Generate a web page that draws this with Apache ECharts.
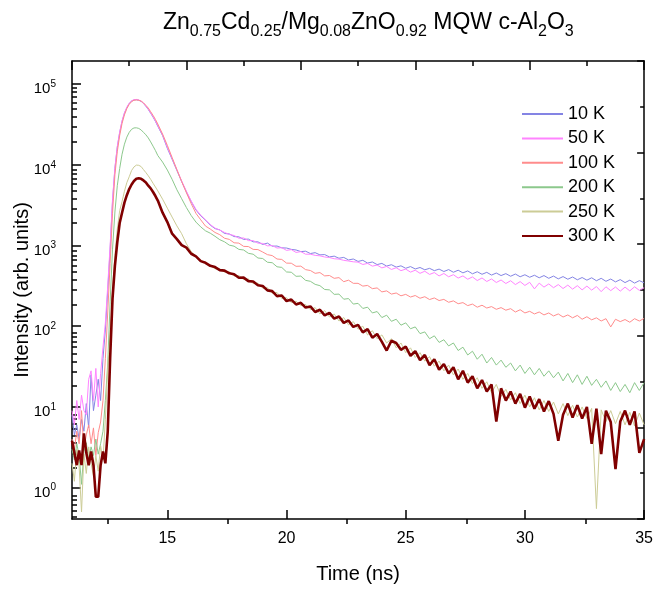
<!DOCTYPE html>
<html><head><meta charset="utf-8">
<script src="https://cdn.jsdelivr.net/npm/echarts@6/dist/echarts.min.js"></script>
<style>html,body{margin:0;padding:0;background:#fff}#c{width:656px;height:589px}</style>
</head><body><div id="c"></div>
<script>
// ---- data ----
const time = [
  11.0,11.1,11.2,11.3,11.4,11.5,11.6,11.7,11.8,11.9,
  12.0,12.1,12.2,12.3,12.4,12.5,12.6,12.7,12.8,12.9,
  13.0,13.1,13.2,13.3,13.4,13.5,13.6,13.7,13.8,13.9,
  14.0,14.1,14.2,14.3,14.4,14.5,14.6,
  14.8,15.0,15.2,15.4,15.6,15.8,16.0,16.2,16.4,16.6,16.8,
  17.0,17.2,17.4,17.6,17.8,18.0,18.2,18.4,18.6,18.8,
  19.0,19.2,19.4,19.6,19.8,20.0,20.2,20.4,20.6,20.8,
  21.0,21.2,21.4,21.6,21.8,22.0,22.2,22.4,22.6,22.8,
  23.0,23.2,23.4,23.6,23.8,24.0,24.2,24.4,24.6,24.8,
  25.0,25.2,25.4,25.6,25.8,26.0,26.2,26.4,26.6,26.8,
  27.0,27.2,27.4,27.6,27.8,28.0,28.2,28.4,28.6,28.8,
  29.0,29.2,29.4,29.6,29.8,30.0,30.2,30.4,30.6,30.8,
  31.0,31.2,31.4,31.6,31.8,32.0,32.2,32.4,32.6,32.8,
  33.0,33.2,33.4,33.6,33.8,34.0,34.2,34.4,34.6,34.8,
  35.0
];
const i10K = [
  8,4.5,6,4,7,5,11,5.5,25,9,
  14,22,12,40,90,280,900,3500,9000,16500,
  25000,34500,43500,51000,57500,61500,63500,64000,63000,61000,
  57500,53000,48500,43500,39000,34500,30000,
  23000,16000,11700,8500,6200,4600,3500,2750,2330,2060,1790,
  1620,1560,1410,1390,1290,1280,1190,1200,1110,1110,
  1030,1070,980,985,935,930,895,880,840,850,
  795,815,765,772,722,738,695,712,662,680,
  635,655,606,625,580,600,556,578,540,560,
  522,548,512,534,500,521,488,510,476,503,
  466,494,458,484,446,473,440,465,430,456,
  424,448,416,443,410,434,404,428,398,424,
  392,418,386,412,382,407,376,401,372,398,
  366,392,360,384,354,378,347,372,342,367,
  345
];
const i50K = [
  9,6,12,7,14,9,8,22,28,12,
  30,10,26,55,110,320,1000,3700,9200,16800,
  25500,35000,44000,51500,58000,62000,64000,64500,63500,61500,
  58000,53500,49000,44000,39500,35000,30500,
  23500,16500,12000,8700,6300,4700,3550,2800,2380,2070,1820,
  1640,1550,1450,1370,1330,1230,1240,1150,1150,1070,
  1060,990,1000,930,940,870,890,820,840,780,
  780,755,745,720,710,685,678,655,642,628,
  622,582,600,555,572,528,550,505,530,488,
  510,468,494,452,480,438,462,420,450,410,
  435,395,420,382,408,368,396,358,385,348,
  374,338,366,328,357,320,350,290,342,305,
  334,300,328,293,323,288,318,282,314,280,
  310,268,308,276,306,272,305,274,308,278,
  300
];
const i100K = [
  4,3,5,3.5,9,3,4.5,6,3.5,5.5,
  2.5,4.8,6.5,12,40,150,600,2500,7500,14500,
  23000,32500,41500,49500,56000,60500,63000,63500,63000,61500,
  58500,54500,50500,45500,41000,36500,32000,
  24000,17400,12300,8700,6200,4500,3300,2500,2080,1740,1600,
  1450,1360,1230,1190,1080,1070,975,970,895,890,
  830,770,750,680,672,605,603,552,555,502,
  490,452,462,420,425,392,400,356,372,340,
  340,314,320,292,298,266,274,250,258,238,
  248,230,240,222,232,214,224,208,215,198,
  206,190,196,180,188,172,182,168,175,162,
  170,158,165,150,160,146,153,142,150,138,
  146,134,142,130,138,127,136,122,131,120,
  127,116,124,98,122,114,121,112,124,116,
  125
];
const i200K = [
  3,2.2,3.5,2.5,1.1,2.8,3.6,2.2,3.2,2.5,
  4,2.6,3.5,5,12,35,200,900,2600,5500,
  9000,13500,18000,22000,25200,27500,28600,28700,28200,27000,
  25200,23500,21500,19200,17000,15000,13000,
  10800,8600,6600,4900,3800,2950,2350,1950,1700,1520,1420,
  1300,1180,1110,1010,980,895,880,800,780,700,
  690,620,612,545,535,470,466,415,418,370,
  360,330,318,285,282,248,250,216,220,188,
  192,166,172,146,152,128,137,115,122,103,
  110,93,98,81,85,70,76,63,68,57,
  62,50,55,44,49,39,45,35,41,33,
  38,31,35,28,33,26,31,25,30,24,
  28,23,27,21,26,20,25,19,24,18.5,
  22,17.5,21,16,20,15.5,19,15,20,16,
  20
];
const i250K = [
  2.0,1.2,3.0,1.8,0.5,2.6,1.5,3.2,2.0,1.4,
  2.5,1.6,3.3,2.2,7,30,85,280,750,1600,
  2700,3500,4700,6000,7100,8500,9400,9900,9850,9500,
  8700,8000,7300,6600,5900,5300,4750,
  3750,2900,2250,1750,1400,1050,840,740,650,615,560,
  515,512,468,472,418,425,378,384,338,342,
  296,300,256,262,220,226,196,204,180,186,
  160,170,142,156,130,142,116,128,104,114,
  92,100,78,88,70,78,62,70,54,62,
  47,54,41,47,37,42,32,37,28,33,
  25,29.5,22,26,19.5,23,17,20.5,15,19,
  13.5,16.5,12.2,15,11,14,10,13,9.2,12,
  8.8,11.5,8.2,11,7.8,10.5,7.5,10,7.2,9.6,
  0.55,9.2,6.6,9,6.2,8.8,6,8.6,5.8,8.4,
  6
];
const i300K = [
  3.8,2.7,1.9,2.9,1.9,4.7,2.7,1.9,2.8,1.9,
  0.77,0.77,1.9,2.8,2.0,5,40,220,560,1100,
  1900,2550,3400,4200,5000,5700,6300,6700,6800,6700,
  6400,6050,5500,5100,4600,4100,3600,
  2550,1950,1400,1200,1010,940,790,735,640,610,560,
  540,495,488,452,440,398,400,362,358,322,
  315,278,272,236,240,205,214,186,195,170,
  176,150,160,136,146,124,132,110,118,98,
  104,84,92,72,80,64,50,66,62,51,
  56,43,49,38,44,33,39,29,34,26,
  31,22,28,20,24,17,21.5,15.5,19,6.6,
  17,12,15.5,11,14.5,9.8,13.5,9.5,12.5,8.8,
  11.8,8.2,3.8,8.0,11,7.4,10.5,7.2,10,3.5,
  9.5,2.6,9,6.5,1.7,6.6,9,6,8.8,2.7,
  4
];
const seriesNames = ['10 K','50 K','100 K','200 K','250 K','300 K'];
const seriesValues = [i10K, i50K, i100K, i200K, i250K, i300K];
const xTickLabels = [15, 20, 25, 30, 35];
const xMinorTicks = [12.5, 17.5, 22.5, 27.5, 32.5];
const yTickValues = [1, 10, 100, 1000, 10000, 100000];
const yMinorTicks = [0.5,0.6,0.7,0.8,0.9, 2,3,4,5,6,7,8,9, 20,30,40,50,60,70,80,90,
  200,300,400,500,600,700,800,900, 2000,3000,4000,5000,6000,7000,8000,9000,
  20000,30000,40000,50000,60000,70000,80000,90000];

// ---- styles ----
const seriesColors = ['#8484e4','#ff84ff','#ff8c8c','#8cc88c','#cccc96','#800000'];
const seriesWidths = [1,1,1,1,1,2.6];
const FONT = "'Liberation Sans', Arial, sans-serif";
const lineSt = {color:'#000', width:1.5};
const X_MIN = 11, X_MAX = 35, Y_MIN = 0.409, Y_MAX = 193000;
const gridBox = {left:72, top:61, width:574, height:463};

const chart = echarts.init(document.getElementById('c'), null, {renderer:'canvas'});
const option = {
  animation:false,
  backgroundColor:'#fff',
  textStyle:{fontFamily:FONT, color:'#000'},
  title:{
    text:'{h|\u200b}{m|Zn}{s|0.75}{m|Cd}{s|0.25}{m|/Mg}{s|0.08}{m|ZnO}{s|0.92}{m| MQW c-Al}{s|2}{m|O}{s|3}',
    left:163, top:11, padding:0,
    textStyle:{fontFamily:FONT, fontWeight:'normal', color:'#000', rich:{
      h:{fontSize:1, lineHeight:29},
      m:{fontSize:23, lineHeight:20, verticalAlign:'top', color:'#000', fontWeight:'normal', fontFamily:FONT},
      s:{fontSize:16, lineHeight:15, verticalAlign:'bottom', color:'#000', fontWeight:'normal', fontFamily:FONT}
    }}
  },
  legend:{
    data:seriesNames, orient:'vertical', left:521, top:105, padding:0,
    itemWidth:41, itemHeight:14, itemGap:6.4,
    itemStyle:{opacity:0},
    textStyle:{fontSize:18, color:'#000', fontFamily:FONT}
  },
  grid:[Object.assign({}, gridBox), Object.assign({}, gridBox)],
  xAxis:[
    {gridIndex:0, type:'value', min:X_MIN, max:X_MAX, position:'bottom',
     axisLine:{onZero:false, lineStyle:lineSt},
     axisTick:{inside:true, length:9, lineStyle:lineSt, customValues:xTickLabels},
     axisLabel:{customValues:xTickLabels, fontSize:16, color:'#000', margin:12, fontFamily:FONT},
     splitLine:{show:false},
     name:'Time (ns)', nameLocation:'middle', nameGap:45, nameMoveOverlap:false,
     nameTextStyle:{fontSize:20, color:'#000', fontFamily:FONT}},
    {gridIndex:0, type:'value', min:0, max:1, interval:0.2, position:'top',
     axisLine:{onZero:false, lineStyle:lineSt},
     axisTick:{inside:true, length:9, lineStyle:lineSt},
     minorTick:{show:true, splitNumber:2, length:5, lineStyle:lineSt},
     axisLabel:{show:false}, splitLine:{show:false}},
    {gridIndex:1, type:'value', min:X_MIN, max:X_MAX, position:'bottom',
     axisLine:{show:false, onZero:false},
     axisTick:{inside:true, length:5, lineStyle:lineSt, customValues:xMinorTicks},
     axisLabel:{show:false}, splitLine:{show:false}}
  ],
  yAxis:[
    {gridIndex:0, type:'log', logBase:10, min:Y_MIN, max:Y_MAX, position:'left',
     axisLine:{onZero:false, lineStyle:lineSt},
     axisTick:{inside:true, length:9, lineStyle:lineSt, customValues:yTickValues},
     axisLabel:{customValues:yTickValues, margin:16, color:'#000',
       formatter:function(v){ return '{b|10}{p|' + Math.round(Math.log10(v)) + '}'; },
       rich:{
         b:{fontSize:15, lineHeight:18, verticalAlign:'bottom', color:'#000', fontFamily:FONT},
         p:{fontSize:10, lineHeight:25, verticalAlign:'middle', color:'#000', fontFamily:FONT}
       }},
     splitLine:{show:false},
     name:'Intensity (arb. units)', nameLocation:'middle', nameGap:40, nameMoveOverlap:false,
     nameTextStyle:{fontSize:20, color:'#000', fontFamily:FONT}},
    {gridIndex:0, type:'value', min:0, max:1, interval:0.2, position:'right',
     axisLine:{onZero:false, lineStyle:lineSt},
     axisTick:{inside:true, length:7, lineStyle:lineSt},
     minorTick:{show:true, splitNumber:2, length:4, lineStyle:lineSt},
     axisLabel:{show:false}, splitLine:{show:false}},
    {gridIndex:1, type:'log', logBase:10, min:Y_MIN, max:Y_MAX, position:'left',
     axisLine:{show:false, onZero:false},
     axisTick:{inside:true, length:5, lineStyle:lineSt, customValues:yMinorTicks},
     axisLabel:{show:false}, splitLine:{show:false}}
  ],
  series: seriesNames.map(function(name, k){
    return {
      name:name, type:'line', xAxisIndex:0, yAxisIndex:0,
      data: time.map(function(t, i){ return [t, seriesValues[k][i]]; }),
      symbol:'none', showSymbol:false, clip:true,
      lineStyle:{width:seriesWidths[k], color:seriesColors[k]},
      itemStyle:{color:seriesColors[k]},
      emphasis:{disabled:true}
    };
  })
};
chart.setOption(option);
</script>
</body></html>
